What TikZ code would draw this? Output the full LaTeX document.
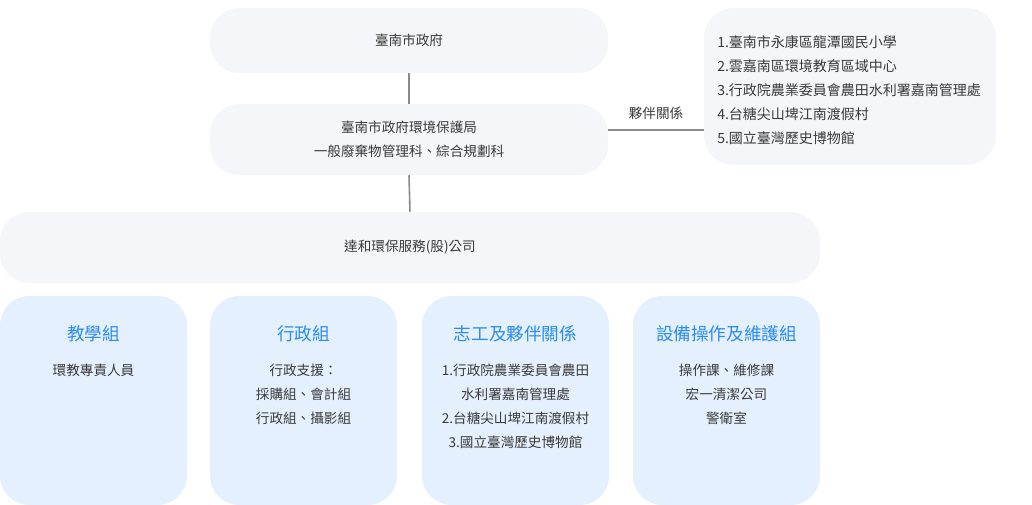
\documentclass[tikz,border=0pt]{standalone}
\usepackage{fontspec}
\setmainfont{Noto Sans CJK TC}
\definecolor{greyfill}{HTML}{F5F6FA}
\definecolor{bluefill}{HTML}{E4F0FD}
\definecolor{titleblue}{HTML}{2A8CF0}
\definecolor{txt}{HTML}{3A3A3A}
\definecolor{linec}{HTML}{8A8A8A}
\tikzset{
  greybox/.style={fill=greyfill, draw=none, rounded corners=22pt, inner sep=0pt, text=txt, align=center, font=\fontsize{10.2}{18}\selectfont},
  bluebox/.style={fill=bluefill, draw=none, rounded corners=22pt, inner sep=0pt, minimum width=140.25pt, minimum height=156.75pt},
  grptitle/.style={text=titleblue, font=\fontsize{13.2}{16}\selectfont, inner sep=0pt},
  grpbody/.style={text=txt, align=center, anchor=north, inner sep=0pt, font=\fontsize{10.2}{18}\selectfont},
  conn/.style={draw=linec, line width=1.2pt},
}
\begin{document}
\begin{tikzpicture}[x=0.75pt,y=-0.75pt]
\useasboundingbox (0,0) rectangle (1032,505);
\node[greybox, minimum width=298.5pt, minimum height=48.75pt] (A) at (409,40.5) {臺南市政府};
\node[greybox, minimum width=298.5pt, minimum height=53.25pt] (B) at (409,139.5) {臺南市政府環境保護局\\一般廢棄物管理科、綜合規劃科};
\node[greybox, minimum width=219pt, minimum height=117.75pt] (P) at (850,86.5) {};
\node[text=txt, align=left, anchor=north west, inner sep=0pt, font=\fontsize{10.5}{18}\selectfont] (PT) at (717,35) {1.臺南市永康區龍潭國民小學\\2.雲嘉南區環境教育區域中心\\3.行政院農業委員會農田水利署嘉南管理處\\4.台糖尖山埤江南渡假村\\5.國立臺灣歷史博物館};
\node[greybox, minimum width=615pt, minimum height=53.25pt] (C) at (410,247.5) {達和環保服務(股)公司};

\coordinate (pl) at (656,130);
\draw[conn] (A.south) -- (B.north);
\draw[conn] (B.south) -- (C.north);
\draw[conn] (B.east|-pl) -- (P.west|-pl);
\node[text=txt, inner sep=0pt, font=\fontsize{10.2}{12}\selectfont] (PL) at (656,113) {夥伴關係};

\node[bluebox] (G1) at (93.5,400.5) {};
\node[bluebox] (G2) at (303.5,400.5) {};
\node[bluebox] (G3) at (515.5,400.5) {};
\node[bluebox] (G4) at (726.5,400.5) {};

\node[grptitle] (T1) at (93.5,334) {教學組};
\node[grptitle] (T2) at (303.5,334) {行政組};
\node[grptitle] (T3) at (515.5,334) {志工及夥伴關係};
\node[grptitle] (T4) at (726.5,334) {設備操作及維護組};

\node[grpbody] (B1) at (93.5,364) {環教專責人員};
\node[grpbody] (B2) at (303.5,364) {行政支援：\\採購組、會計組\\行政組、攝影組};
\node[grpbody] (B3) at (515.5,364) {1.行政院農業委員會農田\\水利署嘉南管理處\\2.台糖尖山埤江南渡假村\\3.國立臺灣歷史博物館};
\node[grpbody] (B4) at (726.5,364) {操作課、維修課\\宏一清潔公司\\警衛室};
\end{tikzpicture}
\end{document}
